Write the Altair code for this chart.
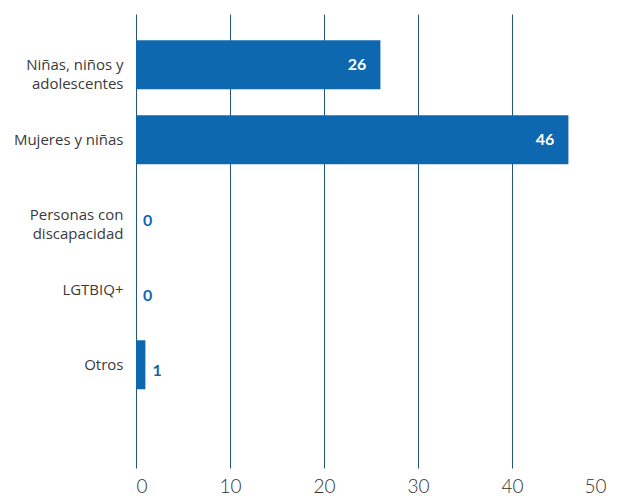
import altair as alt
import pandas as pd

categories = ["Niñas, niños y\nadolescentes", "Mujeres y niñas", "Personas con\ndiscapacidad", "LGTBIQ+", "Otros"]
values = [26, 46, 0, 0, 1]
x_ticks = [0, 10, 20, 30, 40, 50]

df = pd.DataFrame({"cat": categories, "val": values})
df["inside"] = df["val"] >= 10

BLUE = "#0e68b0"
GRID = "#24557c"

y_enc = alt.Y(
    "cat:N",
    sort=categories,
    scale=alt.Scale(paddingInner=0.347, paddingOuter=0.7, align=0.25),
    axis=alt.Axis(
        title=None,
        labelExpr="split(datum.label, '\\n')",
        labelFont="Open Sans",
        labelFontSize=15,
        labelFontWeight=400,
        labelColor="#3a3a3a",
        labelPadding=13,
        ticks=False,
        domain=False,
        minExtent=128,
        maxExtent=128,
        labelLineHeight=19,
    ),
)

x_enc = alt.X(
    "val:Q",
    scale=alt.Scale(domain=[0, 50], nice=False),
    axis=alt.Axis(
        title=None,
        values=x_ticks,
        grid=True,
        gridColor=GRID,
        gridWidth=1,
        gridOpacity=1,
        ticks=False,
        domain=False,
        labelFont="Lato",
        labelFontSize=19,
        labelFontWeight=300,
        labelColor="#333333",
        labelPadding=9,
    ),
)

bars = alt.Chart(df).mark_bar(color=BLUE).encode(x=x_enc, y=y_enc)

inside = alt.Chart(df).transform_filter("datum.inside").mark_text(
    align="right", baseline="middle", dx=-14, color="white",
    font="Lato", fontSize=16, fontWeight="bold"
).encode(x="val:Q", y=alt.Y("cat:N", sort=categories), text="val:Q")

outside = alt.Chart(df).transform_filter("!datum.inside").mark_text(
    align="left", baseline="middle", dx=7, dy=6, color=BLUE,
    font="Lato", fontSize=16, fontWeight="bold"
).encode(x="val:Q", y=alt.Y("cat:N", sort=categories), text="val:Q")

chart = (
    alt.layer(bars, inside, outside)
    .properties(width=470, height=454, padding={"left": 0, "top": 6, "right": 0, "bottom": 0})
    .configure_view(stroke=None)
)

chart.save("out.html", embed_options={"renderer": "svg", "actions": False})
